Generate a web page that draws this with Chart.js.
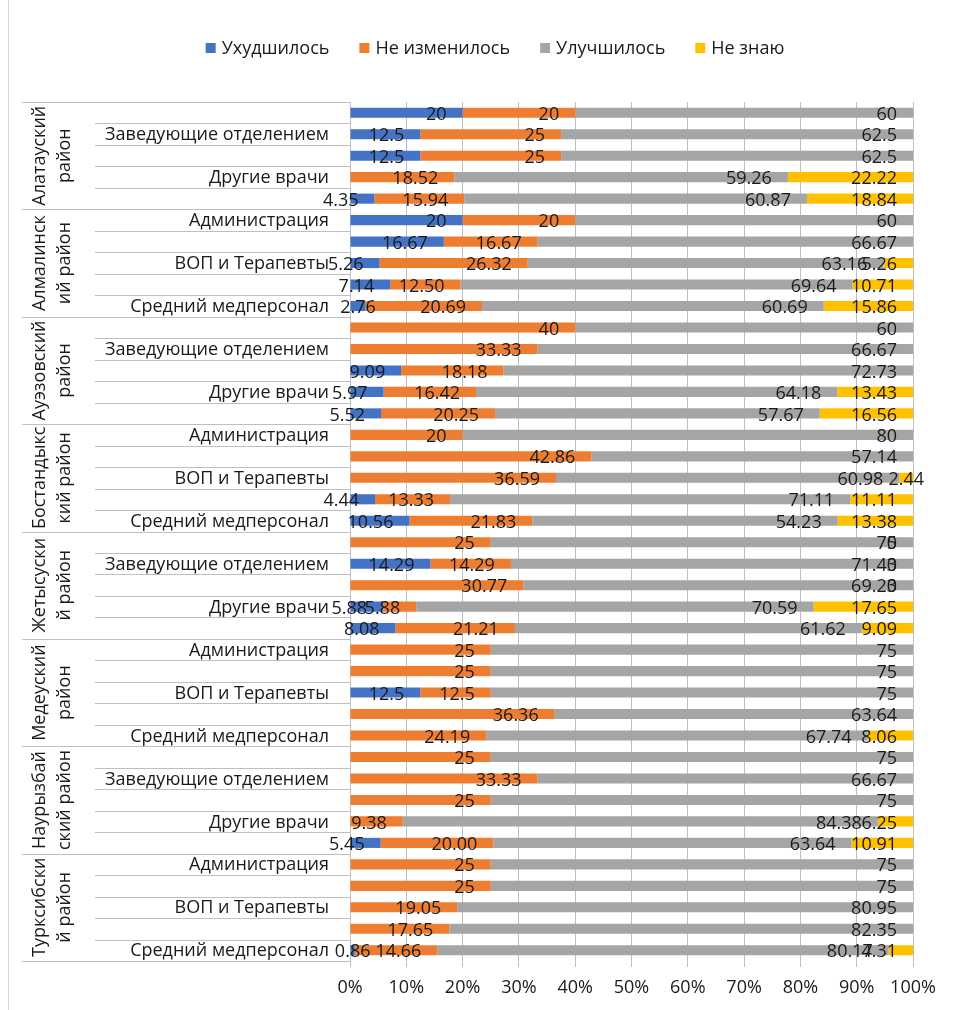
<!DOCTYPE html>
<html>
<head>
<meta charset="utf-8">
<script src="https://cdn.jsdelivr.net/npm/chart.js@4/dist/chart.umd.min.js"></script>
<style>
  html, body { margin: 0; padding: 0; background: #ffffff; }
  canvas { display: block; }
</style>
</head>
<body>
<canvas id="chart" width="953" height="1010"></canvas>
<script>
// Districts (two-line names for the rotated group labels)
const districts = [
  ['Алатауский', 'район'],
  ['Алмалинск', 'ий район'],
  ['Ауэзовский', 'район'],
  ['Бостандыкс', 'кий район'],
  ['Жетысуски', 'й район'],
  ['Медеуский', 'район'],
  ['Наурызбай', 'ский район'],
  ['Турксибски', 'й район']
];

// Staff groups inside each district
const staff = ['Администрация', 'Заведующие отделением', 'ВОП и Терапевты', 'Другие врачи', 'Средний медперсонал'];

const seriesNames = ['Ухудшилось', 'Не изменилось', 'Улучшилось', 'Не знаю'];
const seriesColors = ['#4472C4', '#ED7D31', '#A5A5A5', '#FFC000'];

// Shares of answers, %, one entry per district × staff group (null = no answer)
const worse = [
  '20', '12.5', '12.5', null, '4.35',
  '20', '16.67', '5.26', '7.14', '2.76',
  null, null, '9.09', '5.97', '5.52',
  null, null, null, '4.44', '10.56',
  null, '14.29', null, '5.88', '8.08',
  null, null, '12.5', null, null,
  null, null, null, null, '5.45',
  null, null, null, null, '0.86'
];
const unchanged = [
  '20', '25', '25', '18.52', '15.94',
  '20', '16.67', '26.32', '12.50', '20.69',
  '40', '33.33', '18.18', '16.42', '20.25',
  '20', '42.86', '36.59', '13.33', '21.83',
  '25', '14.29', '30.77', '5.88', '21.21',
  '25', '25', '12.5', '36.36', '24.19',
  '25', '33.33', '25', '9.38', '20.00',
  '25', '25', '19.05', '17.65', '14.66'
];
const improved = [
  '60', '62.5', '62.5', '59.26', '60.87',
  '60', '66.67', '63.16', '69.64', '60.69',
  '60', '66.67', '72.73', '64.18', '57.67',
  '80', '57.14', '60.98', '71.11', '54.23',
  '75', '71.43', '69.23', '70.59', '61.62',
  '75', '75', '75', '63.64', '67.74',
  '75', '66.67', '75', '84.38', '63.64',
  '75', '75', '80.95', '82.35', '80.17'
];
const dontKnow = [
  null, null, null, '22.22', '18.84',
  null, null, '5.26', '10.71', '15.86',
  null, null, null, '13.43', '16.56',
  null, null, '2.44', '11.11', '13.38',
  '0', '0', '0', '17.65', '9.09',
  null, null, null, null, '8.06',
  null, null, null, '6.25', '10.91',
  null, null, null, null, '4.31'
];

const xTickStep = 10;     // value-axis step, %
const labelEvery = 2;     // staff names shown on every second row

const rowLabels = [];
districts.forEach(() => staff.forEach(s => rowLabels.push(s)));

const FONT = "'Open Sans', 'Noto Sans', sans-serif";
const TEXT = '#1a1a1a';
const LINE = '#bfbfbf';

const toNum = v => (v === null ? null : Number(v));
const seriesText = [worse, unchanged, improved, dontKnow];

const datasets = seriesText.map((arr, k) => ({
  label: seriesNames[k],
  data: arr.map(toNum),
  valueText: arr,
  backgroundColor: seriesColors[k],
  borderWidth: 0,
  categoryPercentage: 1,
  barPercentage: 0.47
}));

// Legend, category labels, separators and value labels
const decorations = {
  id: 'decorations',
  beforeDraw(chart) {
    const ctx = chart.ctx;
    ctx.save();
    ctx.fillStyle = '#ffffff';
    ctx.fillRect(0, 0, chart.width, chart.height);
    ctx.strokeStyle = '#d9d9d9';
    ctx.lineWidth = 1;
    ctx.beginPath();
    ctx.moveTo(8.5, 0);
    ctx.lineTo(8.5, chart.height);
    ctx.stroke();
    ctx.restore();
  },
  afterDatasetsDraw(chart) {
    const ctx = chart.ctx;
    ctx.save();
    ctx.font = '18px ' + FONT;
    ctx.fillStyle = TEXT;
    ctx.textBaseline = 'middle';
    chart.data.datasets.forEach((ds, di) => {
      const meta = chart.getDatasetMeta(di);
      meta.data.forEach((bar, i) => {
        const txt = ds.valueText[i];
        if (txt === null) return;
        const p = bar.getProps(['x', 'y', 'base'], true);
        const w = Math.abs(p.x - p.base);
        if (w > 0 && w < 20) {
          // very thin segments: label centred on the segment
          ctx.textAlign = 'center';
          ctx.fillText(txt, (p.x + p.base) / 2, p.y + 2);
        } else {
          ctx.textAlign = 'right';
          ctx.fillText(txt, p.x - 16, p.y + 2);
        }
      });
    });
    ctx.restore();
  },
  afterDraw(chart) {
    const ctx = chart.ctx;
    const area = chart.chartArea;
    const y = chart.scales.y;
    const n = rowLabels.length;
    const band = y.getPixelForValue(1) - y.getPixelForValue(0);
    ctx.save();

    // category separators
    ctx.strokeStyle = LINE;
    ctx.lineWidth = 1;
    for (let i = 0; i <= n; i++) {
      const yy = Math.round(y.getPixelForValue(i) - band / 2) + 0.5;
      const x0 = (i % staff.length === 0) ? 22 : 95;
      ctx.beginPath();
      ctx.moveTo(x0, yy);
      ctx.lineTo(area.left, yy);
      ctx.stroke();
    }

    // staff labels
    ctx.font = '18px ' + FONT;
    ctx.fillStyle = TEXT;
    ctx.textAlign = 'right';
    ctx.textBaseline = 'middle';
    rowLabels.forEach((lab, i) => {
      if (i % labelEvery !== labelEvery - 1) return;
      ctx.fillText(lab, 329, y.getPixelForValue(i) + 1);
    });

    // district labels, rotated
    ctx.textAlign = 'center';
    districts.forEach((d, g) => {
      const c = (y.getPixelForValue(g * staff.length) + y.getPixelForValue(g * staff.length + staff.length - 1)) / 2;
      ctx.save();
      ctx.translate(40, c);
      ctx.rotate(-Math.PI / 2);
      ctx.fillText(d[0], 0, 0);
      ctx.fillText(d[1], 0, 25);
      ctx.restore();
    });

    // legend
    ctx.font = '18px ' + FONT;
    ctx.textAlign = 'left';
    const box = 10, gap = 6, spacing = 30;
    const widths = chart.data.datasets.map(ds => ctx.measureText(ds.label).width);
    const total = widths.reduce((a, w) => a + box + gap + w, 0) + spacing * (widths.length - 1);
    let lx = 495 - total / 2;
    const ly = 48;
    chart.data.datasets.forEach((ds, k) => {
      ctx.fillStyle = ds.backgroundColor;
      ctx.fillRect(lx, ly - box / 2, box, box);
      ctx.fillStyle = TEXT;
      ctx.fillText(ds.label, lx + box + gap, ly + 1);
      lx += box + gap + widths[k] + spacing;
    });

    ctx.restore();
  }
};

new Chart(document.getElementById('chart'), {
  type: 'bar',
  data: { labels: rowLabels, datasets },
  options: {
    indexAxis: 'y',
    responsive: false,
    animation: false,
    layout: { padding: { left: 350, right: 40, top: 102, bottom: 0 } },
    plugins: { legend: { display: false }, tooltip: { enabled: false } },
    scales: {
      y: { stacked: true, display: false },
      x: {
        stacked: true,
        min: 0,
        max: 100,
        grid: { color: LINE, lineWidth: 1, tickLength: 6, drawTicks: true },
        border: { display: false },
        ticks: {
          stepSize: xTickStep,
          padding: 10,
          color: TEXT,
          font: { family: FONT, size: 18 },
          callback: v => v + '%'
        },
        afterFit(scale) { scale.height = 49; }
      }
    }
  },
  plugins: [decorations]
});
</script>
</body>
</html>
